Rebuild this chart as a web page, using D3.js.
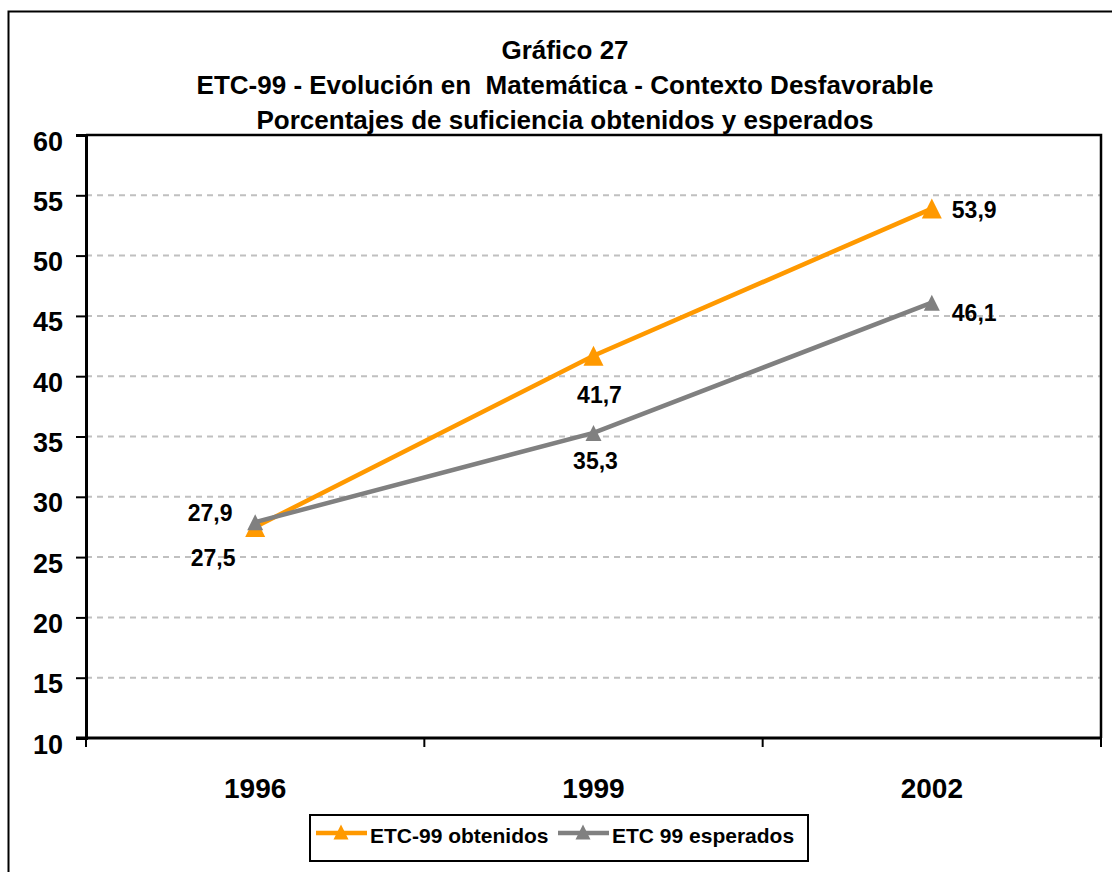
<!DOCTYPE html>
<html>
<head>
<meta charset="utf-8">
<script src="https://cdn.jsdelivr.net/npm/d3@7"></script>
<style>
  body { margin: 0; background: #fff; }
  text { font-family: "Liberation Sans", Arial, sans-serif; font-weight: bold; fill: #000; }
  .title text { white-space: pre; }
</style>
</head>
<body>
<div class="chart_area"></div>
<script>
var years = ["1996", "1999", "2002"];
var obtenidos = [27.5, 41.7, 53.9];
var esperados = [27.9, 35.3, 46.1];
var yTicks = [10, 15, 20, 25, 30, 35, 40, 45, 50, 55, 60];
var titleLines = ["Gráfico 27", "ETC-99 - Evolución en  Matemática - Contexto Desfavorable", "Porcentajes de suficiencia obtenidos y esperados"];
var seriesNames = ["ETC-99 obtenidos", "ETC 99 esperados"];

var width = 1112, height = 872;
var margin = {left: 86, top: 135, right: 1101, bottom: 738};

var svg = d3.select(".chart_area").append("svg")
  .attr("width", width)
  .attr("height", height);

// outer frame
svg.append("rect")
  .attr("x", 8.5).attr("y", 11.5)
  .attr("width", 1200).attr("height", 1000)
  .attr("fill", "none").attr("stroke", "#000").attr("stroke-width", 2);

var x = d3.scaleBand().domain(years).range([margin.left, margin.right]);
var y = d3.scaleLinear().domain([10, 60]).range([margin.bottom, margin.top]);

// gridlines
svg.append("g").selectAll("line")
  .data(yTicks.slice(1, -1))
  .enter().append("line")
  .attr("x1", margin.left).attr("x2", margin.right)
  .attr("y1", function (d) { return y(d); })
  .attr("y2", function (d) { return y(d); })
  .attr("stroke", "#c0c0c0")
  .attr("stroke-width", 2)
  .attr("stroke-dasharray", "6,5");

// plot top and right border
svg.append("path")
  .attr("d", "M" + margin.left + "," + margin.top + "H" + margin.right + "V" + margin.bottom)
  .attr("fill", "none").attr("stroke", "#000").attr("stroke-width", 2.5);

// y axis
var yAxis = svg.append("g")
  .attr("transform", "translate(" + margin.left + ",0)")
  .call(d3.axisLeft(y).tickValues(yTicks).tickSize(10).tickPadding(13));
yAxis.selectAll("text")
  .attr("dy", null)
  .attr("y", 15)
  .style("font-size", "27px");
yAxis.select(".domain").attr("stroke-width", 3);
yAxis.selectAll(".tick line").attr("stroke-width", 2);

// x axis, ticks between categories
var xAxis = svg.append("g")
  .attr("transform", "translate(0," + margin.bottom + ")");
xAxis.append("line")
  .attr("x1", margin.left - 10).attr("x2", margin.right)
  .attr("stroke", "#000").attr("stroke-width", 3);
xAxis.selectAll(".tk")
  .data(years.map(function (d) { return x(d); }).concat([margin.right]))
  .enter().append("line")
  .attr("x1", function (d) { return d; }).attr("x2", function (d) { return d; })
  .attr("y1", 0).attr("y2", 9)
  .attr("stroke", "#000").attr("stroke-width", 2);
xAxis.selectAll("text")
  .data(years)
  .enter().append("text")
  .attr("x", function (d) { return x(d) + x.bandwidth() / 2; })
  .attr("y", 60)
  .attr("text-anchor", "middle")
  .style("font-size", "28px")
  .text(function (d) { return d; });

// title
svg.append("g").attr("class", "title").selectAll("text")
  .data(titleLines)
  .enter().append("text")
  .attr("x", 565)
  .attr("y", function (d, i) { return 59 + i * 35; })
  .attr("text-anchor", "middle")
  .style("font-size", "26px")
  .text(function (d) { return d; });

var colors = ["#ff9900", "#808080"];
var markerSize = [20, 16];
function triangle(s) {
  return "M0," + (-s / 2) + "L" + (s / 2) + "," + (s / 2) + "L" + (-s / 2) + "," + (s / 2) + "Z";
}
var cx = function (i) { return x(years[i]) + x.bandwidth() / 2; };

function drawSeries(vals, color, size) {
  var line = d3.line()
    .x(function (d, i) { return cx(i); })
    .y(function (d) { return y(d); });
  svg.append("path")
    .datum(vals)
    .attr("d", line)
    .attr("fill", "none")
    .attr("stroke", color)
    .attr("stroke-width", 4.5);
  svg.append("g").selectAll("path")
    .data(vals)
    .enter().append("path")
    .attr("d", triangle(size))
    .attr("transform", function (d, i) { return "translate(" + cx(i) + "," + y(d) + ")"; })
    .attr("fill", color);
}
drawSeries(obtenidos, colors[0], markerSize[0]);
drawSeries(esperados, colors[1], markerSize[1]);

// data labels (offsets relative to the point)
var labelOffObt = [[-42, 39], [6, 47], [20, 9]];
var labelOffEsp = [[-45, -1], [2, 36], [20, 18]];
function drawLabels(vals, offs) {
  svg.append("g").selectAll("text")
    .data(vals)
    .enter().append("text")
    .attr("x", function (d, i) { return cx(i) + offs[i][0]; })
    .attr("y", function (d, i) { return y(d) + offs[i][1]; })
    .attr("text-anchor", function (d, i) { return i == 2 ? "start" : "middle"; })
    .style("font-size", "23px")
    .text(function (d) { return String(d).replace(".", ","); });
}
drawLabels(obtenidos, labelOffObt);
drawLabels(esperados, labelOffEsp);

// legend
var lg = svg.append("g").attr("transform", "translate(310,815)");
lg.append("rect")
  .attr("width", 498).attr("height", 46)
  .attr("fill", "#fff").attr("stroke", "#000").attr("stroke-width", 2);
var items = lg.selectAll(".item")
  .data(seriesNames)
  .enter().append("g")
  .attr("transform", function (d, i) { return "translate(" + (6 + i * 242) + ",18)"; });
items.append("line")
  .attr("x1", 0).attr("x2", 51)
  .attr("stroke", function (d, i) { return colors[i]; })
  .attr("stroke-width", 4.5);
items.append("path")
  .attr("d", triangle(15))
  .attr("transform", "translate(25,-1)")
  .attr("fill", function (d, i) { return colors[i]; });
items.append("text")
  .attr("x", 54).attr("y", 10)
  .style("font-size", "21px")
  .text(function (d) { return d; });
</script>
</body>
</html>
